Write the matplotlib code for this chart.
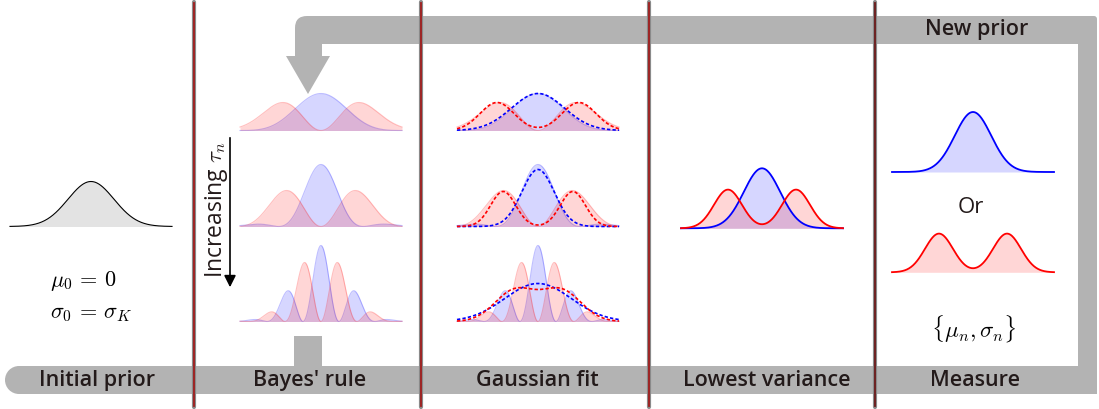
import numpy as np
import matplotlib
matplotlib.use("Agg")
import matplotlib.pyplot as plt
from matplotlib.patches import Rectangle, Circle, Polygon, FancyBboxPatch

plt.rcParams['font.family'] = ['Open Sans', 'DejaVu Sans']
plt.rcParams['mathtext.fontset'] = 'cm'

# ---- data (x in half-width units, heights in px) ----
STAGES = ["Initial prior", "Bayes' rule", "Gaussian fit", "Lowest variance", "Measure"]

INIT_SIGMA = 0.284
INIT_PEAK = 45

# Bayes posteriors, one entry per row (increasing tau)
TAU = [1.6, 3.0, 7.07]
BLUE_ENV = [0.44, 0.346, 0.315]
RED_ENV = [0.37, 0.48, 0.315]
BLUE_PEAK = [37, 62, 76]
RED_PEAK = [28, 36, 59]

# gaussian fits of the posteriors
FIT_BLUE_SIGMA = [0.327, 0.20, 0.41]
FIT_BLUE_PEAK = [37, 57, 38]
FIT_RED_MU = [0.506, 0.43, 0.284]
FIT_RED_SIGMA = [0.21, 0.155, 0.247]
FIT_RED_AMP = [28, 35, 31]

# lowest variance / new prior
BEST_BLUE_SIGMA, BEST_BLUE_PEAK = 0.225, 60
BEST_RED_MU, BEST_RED_SIGMA, BEST_RED_AMP = 0.42, 0.173, 38.7

GREY = '#b3b3b3'
TXT = '#231a1a'
HALF = 81
X = np.linspace(-1, 1, 400)


def gauss(x, mu, s):
    return np.exp(-(x - mu) ** 2 / (2 * s ** 2))


def fill(ax, cx, base, h, color, edge_alpha=0.25):
    ax.fill_between(cx + X * HALF, base, base - h, color=color, alpha=0.16, lw=0, zorder=2)
    ax.plot(cx + X * HALF, base - h, color=color, alpha=edge_alpha, lw=0.8, zorder=2)


def line(ax, cx, base, h, color, ls='-', lw=1.2):
    ax.plot(cx + X * HALF, base - h, color=color, ls=ls, lw=lw, zorder=3)


def main():
    fig = plt.figure(figsize=(10.99, 4.10), dpi=100)
    ax = fig.add_axes([0, 0, 1, 1])
    ax.set_xlim(0, 1099)
    ax.set_ylim(410, 0)
    ax.axis('off')

    # grey loop: bottom band, right side, top band with arrow
    ax.add_patch(Rectangle((19, 367), 1078, 28, color=GREY, lw=0, zorder=1))
    ax.add_patch(Circle((19, 381), 14, color=GREY, lw=0, zorder=1))
    ax.add_patch(FancyBboxPatch((1078, 17), 19, 378, boxstyle="round,pad=0,rounding_size=3",
                                color=GREY, lw=0, zorder=1))
    ax.add_patch(Rectangle((310, 17), 780, 28, color=GREY, lw=0, zorder=1))
    ax.add_patch(FancyBboxPatch((295, 17), 27, 40, boxstyle="round,pad=0,rounding_size=12",
                                color=GREY, lw=0, zorder=1))
    ax.add_patch(Rectangle((295, 35), 27, 23, color=GREY, lw=0, zorder=1))
    ax.add_patch(Polygon([(286, 57), (330, 57), (308, 95)], closed=True, color=GREY, lw=0, zorder=1))
    ax.add_patch(Rectangle((294, 337), 28, 31, color=GREY, lw=0, zorder=1))

    # separators
    for i, xv in enumerate([194, 421, 649, 875]):
        ax.plot([xv, xv], [3, 408], color='#8a8a8a', lw=3.0, solid_capstyle='round', zorder=5)
        ax.plot([xv, xv], [4, 407], color='#a01c1c' if i < 3 else '#6a1818', lw=1.3, zorder=5)

    # stage labels
    for name, xc in zip(STAGES, [97, 310, 537, 767, 975]):
        ax.text(xc, 381, name, ha='center', va='center', fontsize=15.5, weight='semibold',
                color=TXT, zorder=6)
    ax.text(977, 30, "New prior", ha='center', va='center', fontsize=15.5, weight='semibold',
            color=TXT, zorder=6)

    # initial prior
    h = INIT_PEAK * gauss(X, 0, INIT_SIGMA)
    ax.fill_between(91 + X * HALF, 227.5, 227.5 - h, color='#e3e3e3', lw=0, zorder=2)
    ax.plot(91 + X * HALF, 227.5 - h, color='black', lw=0.8, zorder=3)
    ax.text(50, 281, r"$\mu_0\,=\,0$", fontsize=16, va='center', ha='left')
    ax.text(50, 314, r"$\sigma_0\,=\,\sigma_K$", fontsize=16, va='center', ha='left')

    # Bayes' rule and gaussian fit columns
    bases = [131.5, 227.5, 322.5]
    for r in range(3):
        blue = gauss(X, 0, BLUE_ENV[r]) * np.cos(TAU[r] * X) ** 2
        red = gauss(X, 0, RED_ENV[r]) * np.sin(TAU[r] * X) ** 2
        blue = blue / blue.max() * BLUE_PEAK[r]
        red = red / red.max() * RED_PEAK[r]
        for cx in [321, 538]:
            fill(ax, cx, bases[r], blue, 'blue')
            fill(ax, cx, bases[r], red, 'red')
        fb = FIT_BLUE_PEAK[r] * gauss(X, 0, FIT_BLUE_SIGMA[r])
        fr = FIT_RED_AMP[r] * (gauss(X, FIT_RED_MU[r], FIT_RED_SIGMA[r]) +
                               gauss(X, -FIT_RED_MU[r], FIT_RED_SIGMA[r]))
        line(ax, 538, bases[r], fb, 'blue', ls=(0, (2, 1.3)))
        line(ax, 538, bases[r], fr, 'red', ls=(0, (2, 1.3)))

    ax.annotate("", xy=(230, 291), xytext=(230, 136),
                arrowprops=dict(arrowstyle='-|>,head_length=0.7,head_width=0.35', color='black', lw=1.2))
    ax.text(216, 210, r"Increasing $\tau_n$", rotation=90, ha='center', va='center',
            fontsize=16.5, color=TXT)

    # lowest variance and measure
    bb = BEST_BLUE_PEAK * gauss(X, 0, BEST_BLUE_SIGMA)
    br = BEST_RED_AMP * (gauss(X, BEST_RED_MU, BEST_RED_SIGMA) + gauss(X, -BEST_RED_MU, BEST_RED_SIGMA))
    for cx, base, curves in [(762, 229.3, [(bb, 'blue'), (br, 'red')]),
                             (973, 173, [(bb, 'blue')]),
                             (973, 273.3, [(br, 'red')])]:
        for hh, col in curves:
            fill(ax, cx, base, hh, col, edge_alpha=0)
            line(ax, cx, base, hh, col, lw=1.3)

    ax.text(971, 208, "Or", ha='center', va='center', fontsize=16, color=TXT)
    ax.text(974, 329, r"$\{\mu_n, \sigma_n\}$", ha='center', va='center', fontsize=16.5)

    fig.savefig("out.png", dpi=100)


if __name__ == '__main__':
    main()
